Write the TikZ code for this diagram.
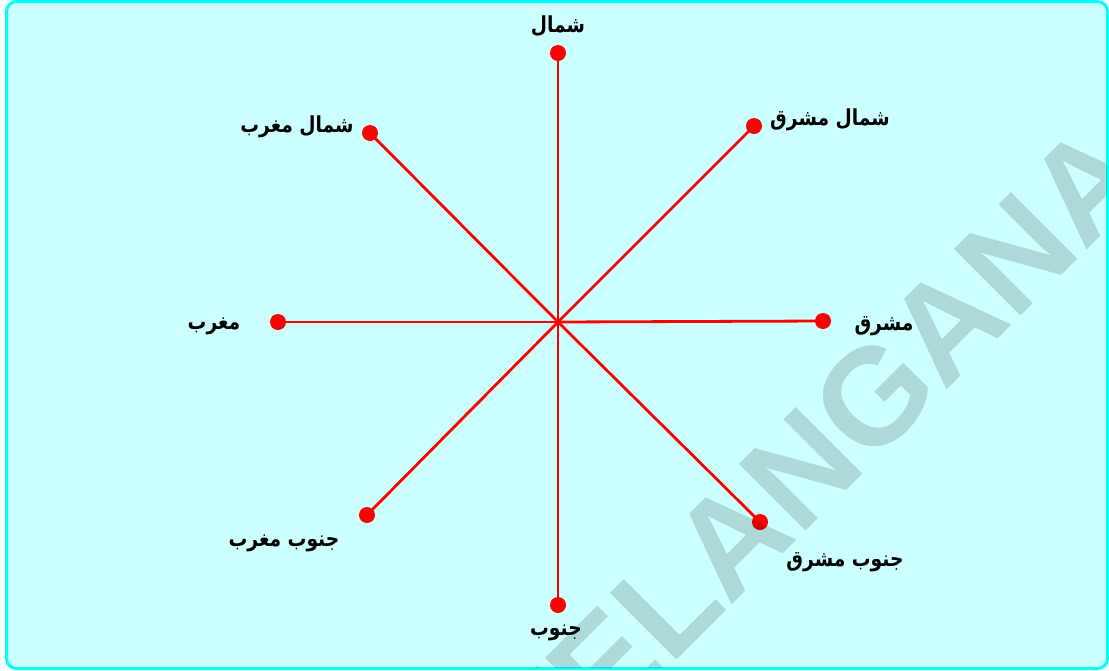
\documentclass[tikz,border=0pt]{standalone}
\usepackage{fontspec}
\TeXXeTstate=1
\newfontfamily\arabicfont[Script=Arabic, FakeStretch=0.85]{DejaVu Sans}
\newfontfamily\wmfont{Liberation Sans}
\definecolor{bgc}{RGB}{204,255,255}
\definecolor{bordc}{RGB}{0,255,255}
\definecolor{rayc}{RGB}{255,0,0}
\tikzset{
  dot/.style={circle, fill=rayc, draw=none, inner sep=0pt, minimum size=16pt},
  ray/.style={draw=rayc, line width=2.8pt},
  lab/.style={font=\arabicfont\bfseries\fontsize{22}{26}\selectfont, text=black, inner sep=0pt},
  wm/.style={font=\wmfont\bfseries\fontsize{137}{137}\selectfont, text=black, text opacity=0.15, rotate=45, inner sep=0pt}
}
\begin{document}
\begin{tikzpicture}[x=1pt,y=-1pt]
\useasboundingbox (0,0) rectangle (1109,670);
\fill[white] (0,0) rectangle (1109,670);
\path[draw=bordc, line width=3pt, fill=bgc, rounded corners=10pt] (6.5,1.5) rectangle (1107.5,668.5);
\coordinate (O) at (558,322);
% end dots
\node[dot] (N)  at (558,53)  {};
\node[dot] (NE) at (754,126) {};
\node[dot] (E)  at (823,321) {};
\node[dot] (SE) at (760,522) {};
\node[dot] (S)  at (558,605) {};
\node[dot] (SW) at (367,515) {};
\node[dot] (W)  at (278,322) {};
\node[dot] (NW) at (370,133) {};
% rays
\foreach \p in {N,NE,E,SE,S,SW,W,NW} { \draw[ray] (O) -- (\p.center); }
% labels
\node[lab] (lN)  at (558,26)  {\beginR شمال\endR};
\node[lab] (lNE) at (830,120) {\beginR شمال مشرق\endR};
\node[lab] (lNW) at (297,127) {\beginR شمال مغرب\endR};
\node[lab] (lW)  at (214,326) {\beginR مغرب\endR};
\node[lab] (lE)  at (884,326) {\beginR مشرق\endR};
\node[lab] (lSW) at (284,543) {\beginR جنوب مغرب\endR};
\node[lab] (lSE) at (845,562) {\beginR جنوب مشرق\endR};
\node[lab] (lS)  at (556,633) {\beginR جنوب\endR};
% watermark
\begin{scope}
\clip[rounded corners=10pt] (8,3) rectangle (1106,667);
\node[wm] (wmark) at (817,453) {TELANGANA};
\end{scope}
\end{tikzpicture}
\end{document}
